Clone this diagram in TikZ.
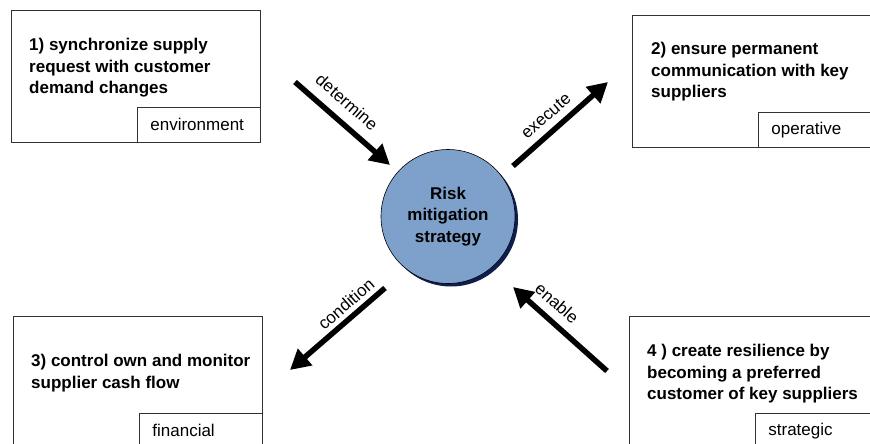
\documentclass[tikz,border=0pt]{standalone}
\usepackage{fontspec}
\setmainfont{Liberation Sans}
\usetikzlibrary{arrows.meta,shadows}
\definecolor{circblue}{RGB}{126,161,204}
\definecolor{shadowblue}{RGB}{15,30,80}
\definecolor{boxline}{RGB}{50,50,50}
\begin{document}
\begin{tikzpicture}[x=1pt,y=-1pt,
  box/.style={draw=boxline, line width=0.8pt, minimum width=249pt, minimum height=132pt, inner sep=0pt, anchor=north west},
  lbl/.style={draw=boxline, line width=0.8pt, minimum height=35pt, text width=97pt, inner xsep=13pt, inner ysep=0pt, align=left, anchor=south east, font=\fontsize{17}{21.5}\selectfont},
  main/.style={anchor=west, align=left, inner sep=0pt, font=\bfseries\fontsize{17}{21.5}\selectfont},
  arr/.style={line width=5.5pt, -{Triangle[length=20pt,width=21pt]}},
  albl/.style={inner sep=0pt, font=\fontsize{17}{20}\selectfont}]
\useasboundingbox (0,0) rectangle (870,444);
\fill[white] (0,0) rectangle (870,444);
\clip (0,0) rectangle (870,444);
% boxes
\node[box] (b1) at (11,10) {};
\node[box] (b2) at (632,15) {};
\node[box] (b3) at (13,316) {};
\node[box] (b4) at (629,316) {};
\node[lbl] (l1) at (b1.south east) {environment};
\node[lbl] (l2) at (b2.south east) {operative};
\node[lbl] (l3) at (b3.south east) {financial};
\node[lbl] (l4) at (b4.south east) {strategic};
\node[main] (t1) at (29,68) {1) synchronize supply\\request with customer\\demand changes};
\node[main] (t2) at (651,72) {2) ensure permanent\\communication with key\\suppliers};
\node[main] (t3) at (31,373) {3) control own and monitor\\supplier cash flow};
\node[main] (t4) at (647,374) {4 ) create resilience by\\becoming a preferred\\customer of key suppliers};
% circle
\node[circle, minimum size=134pt, inner sep=0pt, fill=circblue, draw=black, line width=0.6pt,
  drop shadow={shadow xshift=3pt, shadow yshift=-3pt, fill=shadowblue, opacity=1},
  align=center, font=\bfseries\fontsize{17}{21.5}\selectfont] (c) at (448,216.5) {Risk\\mitigation\\strategy};
% arrows
\coordinate (a1s) at (295,82);  \coordinate (a1e) at (390,165);
\coordinate (a2s) at (513,166); \coordinate (a2e) at (608,82);
\coordinate (a3s) at (385,288); \coordinate (a3e) at (290,370);
\coordinate (a4s) at (607,371); \coordinate (a4e) at (513,287);
\draw[arr] (a1s) -- (a1e);
\draw[arr] (a2s) -- (a2e);
\draw[arr] (a3s) -- (a3e);
\draw[arr] (a4s) -- (a4e);
\node[albl, rotate=-41] (n1) at (347,102) {determine};
\node[albl, rotate=41] (n2) at (546,116) {execute};
\node[albl, rotate=41] (n3) at (346,304) {condition};
\node[albl, rotate=-41] (n4) at (557,303) {enable};
\end{tikzpicture}
\end{document}
